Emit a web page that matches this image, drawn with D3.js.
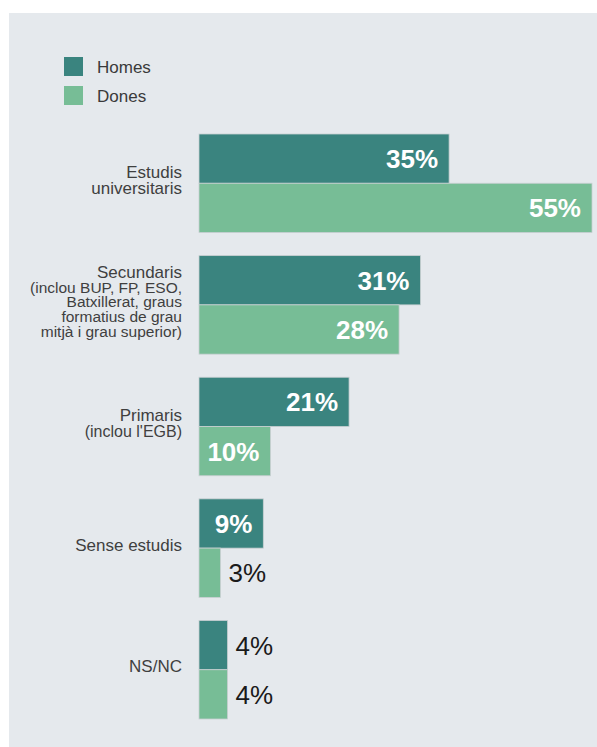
<!DOCTYPE html>
<html>
<head>
<meta charset="utf-8">
<script src="https://cdn.jsdelivr.net/npm/d3@7"></script>
<style>
  body { margin: 0; background: #fff; }
  svg { display: block; font-family: "Liberation Sans", Arial, sans-serif; }
</style>
</head>
<body>
<svg width="597" height="747"></svg>
<script>
// data
var categories = ["Estudis universitaris", "Secundaris", "Primaris", "Sense estudis", "NS/NC"];
var labelLines = [
  ["Estudis", "universitaris"],
  ["Secundaris", "(inclou BUP, FP, ESO,", "Batxillerat, graus", "formatius de grau", "mitjà i grau superior)"],
  ["Primaris", "(inclou l'EGB)"],
  ["Sense estudis"],
  ["NS/NC"]
];
var homes = [35, 31, 21, 9, 4];
var dones = [55, 28, 10, 3, 4];
var seriesNames = ["Homes", "Dones"];
var seriesColors = ["#3a847f", "#77bd96"];

var svg = d3.select("svg"),
    width = +svg.attr("width"),
    height = +svg.attr("height");

// panel
svg.append("rect")
    .attr("x", 9).attr("y", 13)
    .attr("width", width - 9).attr("height", height - 13)
    .attr("fill", "#e5e9ed");

var rows = categories.map(function(c, i) {
  return {cat: c, lines: labelLines[i], values: [homes[i], dones[i]]};
});

var x = d3.scaleLinear().domain([0, 55]).range([199, 592]);

var y = d3.scaleBand()
    .domain(categories)
    .range([134, 719])
    .paddingInner(0.19)
    .paddingOuter(0);

var ySub = d3.scaleBand()
    .domain(seriesNames)
    .range([0, y.bandwidth()]);

// legend
var legend = svg.append("g").attr("transform", "translate(64,57)");
var li = legend.selectAll("g").data(seriesNames).enter().append("g")
    .attr("transform", function(d, i) { return "translate(0," + (i * 29) + ")"; });
li.append("rect")
    .attr("width", 19).attr("height", 19)
    .attr("fill", function(d, i) { return seriesColors[i]; });
li.append("text")
    .attr("x", 33).attr("y", 15.5)
    .style("font-size", "17px")
    .style("fill", "#3a3a3a")
    .text(function(d) { return d; });

// groups
var group = svg.selectAll(".group").data(rows).enter().append("g")
    .attr("class", "group")
    .attr("transform", function(d) { return "translate(0," + y(d.cat) + ")"; });

// category labels (first line bigger, details smaller)
group.append("text")
    .attr("text-anchor", "end")
    .style("fill", "#3f3f3f")
    .each(function(d) {
      var t = d3.select(this);
      var n = d.lines.length;
      var lh = n > 2 ? 14.8 : 16.5;
      var top = y.bandwidth() / 2 - (n - 1) * lh / 2 + 2.5;
      d.lines.forEach(function(line, j) {
        var fs = j == 0 ? 17 : (n > 2 ? 15.5 : (line[0] == "(" ? 16 : 17));
        t.append("tspan")
            .attr("x", 182)
            .attr("y", top + j * lh)
            .style("font-size", fs + "px")
            .text(line);
      });
    });

// bars
var bar = group.selectAll(".bar").data(function(d) {
    return d.values.map(function(v, i) { return {v: v, s: seriesNames[i], i: i}; });
  }).enter().append("g");

bar.append("rect")
    .attr("x", x(0))
    .attr("y", function(d) { return ySub(d.s); })
    .attr("width", function(d) { return x(d.v) - x(0); })
    .attr("height", ySub.bandwidth())
    .attr("fill", function(d) { return seriesColors[d.i]; })
    .attr("stroke", "#c9cfd2")
    .attr("stroke-width", 0.8);

bar.append("text")
    .attr("x", function(d) { return d.v >= 8 ? x(d.v) - 11 : x(d.v) + 8; })
    .attr("y", function(d) { return ySub(d.s) + ySub.bandwidth() / 2 + 9.5; })
    .attr("text-anchor", function(d) { return d.v >= 8 ? "end" : "start"; })
    .style("font-size", "26px")
    .style("font-weight", function(d) { return d.v >= 8 ? "bold" : "normal"; })
    .style("fill", function(d) { return d.v >= 8 ? "#fff" : "#1a1a1a"; })
    .text(function(d) { return d.v + "%"; });
</script>
</body>
</html>
